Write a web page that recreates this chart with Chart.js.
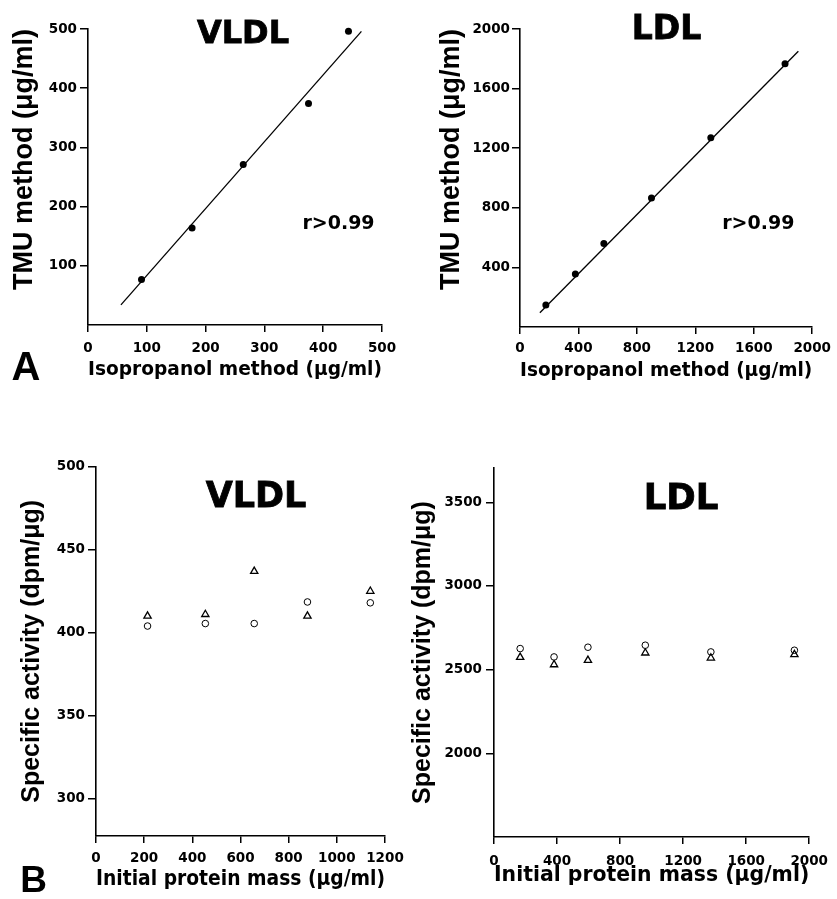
<!DOCTYPE html>
<html><head><meta charset="utf-8">
<script src="https://cdn.jsdelivr.net/npm/chart.js@4.4.1/dist/chart.umd.min.js"></script>
<style>
html,body{margin:0;padding:0;background:#fff;}
#wrap{position:relative;width:837px;height:899px;overflow:hidden;background:#fff;}
canvas{position:absolute;left:0;top:0;}
.lbl{position:absolute;white-space:nowrap;color:#000;line-height:1;transform:translateX(-50%);z-index:5;}
.ttl{font-family:"DejaVu Sans";font-weight:bold;-webkit-text-stroke:0.8px #000;}
.r{font-family:"DejaVu Sans";font-weight:bold;font-size:19px;}
.pl{font-family:"Liberation Sans";font-weight:bold;}
</style></head><body>
<div id="wrap">
<canvas id="c1" width="837" height="899"></canvas>
<canvas id="c2" width="837" height="899"></canvas>
<canvas id="c3" width="837" height="899"></canvas>
<canvas id="c4" width="837" height="899"></canvas>
<div class="lbl ttl" style="left:243px;top:15.6px;font-size:32px;">VLDL</div>
<div class="lbl ttl" style="left:666.5px;top:10.8px;font-size:33px;">LDL</div>
<div class="lbl ttl" style="left:256px;top:477.6px;font-size:35px;">VLDL</div>
<div class="lbl ttl" style="left:681px;top:479.2px;font-size:35.5px;">LDL</div>
<div class="lbl r" style="left:338.5px;top:213.3px;">r&gt;0.99</div>
<div class="lbl r" style="left:758.3px;top:213.3px;">r&gt;0.99</div>
<div class="lbl pl" style="left:26px;top:345.5px;font-size:40px;">A</div>
<div class="lbl pl" style="left:33.5px;top:861px;font-size:37px;">B</div>
</div>
<script>
// ---- Panel A, VLDL: TMU vs isopropanol ----
const vldlIsoX = [91, 177, 264, 375, 443];
const vldlTmuY = [77, 164, 271, 374, 496];
const vldlFitX = [56, 465];
const vldlFitY = [34, 496];
const vldlAxTicksX = [0, 100, 200, 300, 400, 500];
const vldlAxTicksY = [100, 200, 300, 400, 500];

// ---- Panel A, LDL ----
const ldlIsoX = [177, 379, 574, 900, 1306, 1814];
const ldlTmuY = [147, 355, 561, 866, 1270, 1766];
const ldlFitX = [136, 1905];
const ldlFitY = [96, 1851];
const ldlAxTicksX = [0, 400, 800, 1200, 1600, 2000];
const ldlAxTicksY = [400, 800, 1200, 1600, 2000];

// ---- Panel B, VLDL: specific activity vs initial protein mass ----
const vldlMassX = [214, 454, 657, 878, 1139];
const vldlTriY = [410, 411, 437, 410, 425];
const vldlCircY = [404, 405.5, 405.5, 418.5, 418];
const vldlBTicksX = [0, 200, 400, 600, 800, 1000, 1200];
const vldlBTicksY = [300, 350, 400, 450, 500];

// ---- Panel B, LDL ----
const ldlMassX = [166, 381, 596, 960, 1376, 1906];
const ldlCircY = [2626, 2576, 2634, 2646, 2606, 2616];
const ldlTriY = [2574, 2530, 2556, 2600, 2570, 2590];
const ldlBTicksX = [0, 400, 800, 1200, 1600, 2000];
const ldlBTicksY = [2000, 2500, 3000, 3500];

const pts = (xs, ys) => xs.map((x, i) => ({x: x, y: ys[i]}));
const tickFont = {family: '"DejaVu Sans"', weight: 'bold', size: 13.5};

function panel(id, p) {
  return new Chart(document.getElementById(id), {
    type: 'scatter',
    data: {datasets: p.datasets},
    options: {
      responsive: false, animation: false, devicePixelRatio: 1, events: [],
      layout: {autoPadding: false, padding: {left: p.L, top: p.T, right: p.R, bottom: p.B}},
      plugins: {legend: {display: false}, tooltip: {enabled: false}},
      scales: {
        x: {
          type: 'linear', position: 'bottom', min: p.xMin, max: p.xMax,
          afterBuildTicks: s => { s.ticks = p.xTicks.map(v => ({value: v})); },
          afterFit: s => { s.height = p.Hx; },
          grid: {drawOnChartArea: false, drawTicks: true, tickLength: 7, lineWidth: 1.5, tickWidth: 1.5, tickColor: '#000', color: '#000'},
          border: {display: true, color: '#000', width: 1.6},
          ticks: {autoSkip: false, maxRotation: 0, minRotation: 0, padding: p.xPad, color: '#000', font: tickFont, callback: v => String(v)},
          title: {display: true, text: p.xTitle, color: '#000', padding: 0,
                  font: {family: '"DejaVu Sans"', weight: 'bold', size: p.xTitleSize}}
        },
        y: {
          type: 'linear', position: 'left', min: p.yMin, max: p.yMax,
          afterBuildTicks: s => { s.ticks = p.yTicks.map(v => ({value: v})); },
          afterFit: s => { s.width = p.Wy; },
          grid: {drawOnChartArea: false, drawTicks: true, tickLength: 8, lineWidth: 1.5, tickWidth: 1.5, tickColor: '#000', color: '#000'},
          border: {display: true, color: '#000', width: 1.6},
          ticks: {autoSkip: false, padding: p.yPad, color: '#000', font: tickFont, callback: v => String(v)},
          title: {display: true, text: p.yTitle, color: '#000', padding: 0, align: p.yAlign,
                  font: {family: '"Liberation Sans"', weight: 'bold', size: p.yTitleSize}}
        }
      }
    }
  });
}

const fitStyle = {showLine: true, pointRadius: 0, borderColor: '#000', borderWidth: 1.3, fill: false};
const dotStyle = {pointStyle: 'circle', pointRadius: 3.5, backgroundColor: '#000', borderColor: '#000', borderWidth: 0, clip: false};
const circStyle = {pointStyle: 'circle', pointRadius: 3.3, backgroundColor: 'rgba(0,0,0,0)', borderColor: '#000', borderWidth: 1, clip: false};
const triStyle = {pointStyle: 'triangle', pointRadius: 4.2, backgroundColor: 'rgba(0,0,0,0)', borderColor: '#000', borderWidth: 1.3, clip: false};

panel('c1', {
  datasets: [
    Object.assign({data: pts(vldlFitX, vldlFitY)}, fitStyle),
    Object.assign({data: pts(vldlIsoX, vldlTmuY)}, dotStyle)
  ],
  xMin: 0, xMax: 500, yMin: 0, yMax: 500, xTicks: vldlAxTicksX, yTicks: vldlAxTicksY,
  L: 8.3, T: 29, R: 455, B: 517.7, Wy: 79.7, Hx: 56.3, xPad: 8, yPad: 3,
  xTitle: 'Isopropanol method (\u03BCg/ml)', xTitleSize: 19.7,
  yTitle: 'TMU method (\u03BCg/ml)', yTitleSize: 27, yAlign: 'end'
});

panel('c2', {
  datasets: [
    Object.assign({data: pts(ldlFitX, ldlFitY)}, fitStyle),
    Object.assign({data: pts(ldlIsoX, ldlTmuY)}, dotStyle)
  ],
  xMin: 0, xMax: 2000, yMin: 0, yMax: 2000, xTicks: ldlAxTicksX, yTicks: ldlAxTicksY,
  L: 435.5, T: 29, R: 23, B: 516.6, Wy: 84.5, Hx: 55.4, xPad: 6, yPad: 2,
  xTitle: 'Isopropanol method (\u03BCg/ml)', xTitleSize: 19.8,
  yTitle: 'TMU method (\u03BCg/ml)', yTitleSize: 27, yAlign: 'end'
});

panel('c3', {
  datasets: [
    Object.assign({data: pts(vldlMassX, vldlTriY)}, triStyle),
    Object.assign({data: pts(vldlMassX, vldlCircY)}, circStyle)
  ],
  xMin: 0, xMax: 1200, yMin: 277.5, yMax: 500, xTicks: vldlBTicksX, yTicks: vldlBTicksY,
  L: 17.5, T: 466.7, R: 452, B: 6.6, Wy: 78.5, Hx: 56.4, xPad: 7, yPad: 3,
  xTitle: 'Initial protein mass (\u03BCg/ml)', xTitleSize: 20.7,
  yTitle: 'Specific activity (dpm/\u03BCg)', yTitleSize: 25, yAlign: 'center'
});

panel('c4', {
  datasets: [
    Object.assign({data: pts(ldlMassX, ldlTriY)}, triStyle),
    Object.assign({data: pts(ldlMassX, ldlCircY)}, circStyle)
  ],
  xMin: 0, xMax: 2000, yMin: 1500, yMax: 3705, xTicks: ldlBTicksX, yTicks: ldlBTicksY,
  L: 408, T: 468, R: 18, B: 10.6, Wy: 86, Hx: 51.4, xPad: 9, yPad: 4,
  xTitle: 'Initial protein mass (\u03BCg/ml)', xTitleSize: 20.6,
  yTitle: 'Specific activity (dpm/\u03BCg)', yTitleSize: 25, yAlign: 'center'
});
</script>
</body></html>
